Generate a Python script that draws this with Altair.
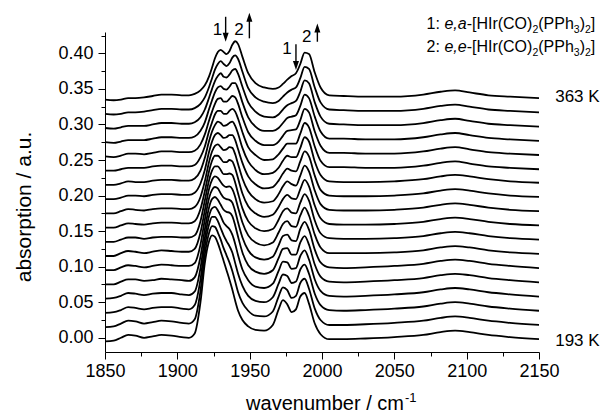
import altair as alt
import pandas as pd

FONT = "Liberation Sans"

# ---------------- data ----------------
wavenumber = [1850, 1856, 1861, 1866, 1871, 1877, 1883, 1889, 1896, 1903, 1908,
              1912, 1916, 1919, 1922, 1924, 1926, 1928, 1930, 1932, 1934, 1936, 1938,
              1940, 1942, 1945, 1949, 1954, 1960,
              1966, 1970, 1973, 1976, 1979, 1982, 1985, 1988, 1991, 1995, 1999, 2005,
              2015, 2030, 2050, 2070, 2082, 2092, 2102, 2115, 2130, 2150]

temperatures = [193, 203, 213, 223, 233, 243, 253, 263, 273, 283,
                293, 303, 313, 323, 333, 343, 353, 363]
offsets = [0.00, 0.02, 0.04, 0.06, 0.08, 0.10, 0.12, 0.14, 0.16, 0.18,
           0.20, 0.22, 0.24, 0.26, 0.28, 0.30, 0.32, 0.34]

# absorbance above each trace's offset, in units of 0.001 a.u.
s193 = [-5,-4,0,4,3,0,2,4,3,1,0, 6,50,105,136,144,142,133,121,108,95,82,68,52,38,25,16,11,10, 18,40,53,47,36,40,58,63,48,20,5,-2, -2,-1,1,4,8,10,8,4,1,-2]
s203 = [-5,-4,0,4,3,0,2,4,3,1,0, 6,46,97,128,137,136,128,118,106,96,86,74,59,44,29,18,11,10, 17,38,51,47,36,39,57,63,49,21,5,-2, -2,-1,1,4,8,10,8,4,1,-2]
s213 = [-5,-4,-1,3,2,0,2,3,3,1,0, 6,42,89,120,130,130,124,114,104,96,89,80,65,50,33,19,12,10, 17,36,49,47,37,39,56,63,50,22,6,-1, -2,-1,1,4,8,10,8,4,1,-2]
s223 = [-5,-4,-1,3,2,0,2,3,3,1,0, 5,38,80,112,122,124,119,111,102,97,93,85,72,56,36,21,12,10, 16,34,47,46,37,38,55,63,50,22,6,-1, -2,-1,1,4,8,10,8,4,1,-2]
s233 = [-5,-5,-1,2,2,0,1,3,2,1,0, 5,34,72,104,115,118,114,107,100,97,96,91,78,62,40,22,13,10, 15,32,45,46,37,37,54,63,51,23,6,-1, -2,-1,1,4,8,10,8,4,1,-2]
s243 = [-5,-5,-1,2,1,-1,1,3,2,1,1, 5,31,66,97,108,112,110,103,97,95,94,90,78,62,41,23,13,10, 14,30,43,45,37,36,53,63,52,24,6,-1, -2,-1,1,4,8,10,8,4,1,-2]
s253 = [-5,-5,-1,2,1,-1,1,3,2,1,1, 5,28,59,90,102,107,105,99,94,92,93,89,78,63,42,24,14,10, 14,28,40,44,37,36,52,63,52,25,7,-1, -1,-1,0,3,7,9,7,3,0,-2]
s263 = [-5,-5,-2,1,1,-1,1,2,2,1,1, 4,24,53,82,95,101,101,96,90,90,91,89,78,63,42,24,14,10, 13,26,38,42,36,35,50,62,53,25,7,0, -1,-1,0,3,7,9,7,3,0,-2]
s273 = [-5,-5,-2,1,0,-1,1,2,2,1,1, 4,21,46,75,89,96,96,92,87,87,90,88,78,64,43,25,15,10, 13,24,35,41,36,35,49,62,53,26,8,0, -1,-1,0,3,7,9,7,3,0,-2]
s283 = [-5,-5,-2,1,0,-1,1,2,2,1,1, 4,18,40,68,82,90,92,88,84,85,88,87,78,64,44,26,15,10, 12,22,33,40,36,34,48,62,54,27,8,0, -1,-1,0,3,7,9,7,3,0,-2]
s293 = [-5,-5,-3,0,0,-1,1,2,2,1,1, 4,17,36,62,76,85,88,85,81,82,85,85,78,65,46,27,16,10, 12,21,31,38,35,34,48,62,55,28,8,0, -1,-1,0,3,7,9,7,3,0,-2]
s303 = [-5,-5,-3,0,-1,-1,1,2,2,1,1, 4,15,33,57,70,79,84,82,78,79,82,84,78,67,47,28,16,10, 12,19,29,36,34,34,47,62,56,28,9,0, -1,-1,0,3,7,9,7,3,0,-2]
s313 = [-5,-5,-3,-1,-1,-1,1,2,2,1,1, 3,14,29,51,63,74,79,79,75,75,79,82,78,68,49,28,17,10, 11,18,26,33,33,33,47,62,56,29,9,0, 0,-1,-1,2,6,8,5,1,-1,-3]
s323 = [-5,-6,-4,-1,-1,-2,0,2,2,1,1, 3,12,26,46,58,69,76,77,72,72,76,80,78,69,50,29,17,11, 11,16,24,31,32,33,46,62,57,30,10,0, 0,-1,-1,2,6,8,5,1,-1,-3]
s333 = [-5,-6,-4,-2,-2,-2,0,2,2,1,1, 3,11,23,42,54,65,72,74,70,69,73,78,78,70,51,30,17,11, 11,15,22,29,31,33,46,62,57,31,10,0, 0,-1,-1,2,6,8,5,1,-1,-3]
s343 = [-5,-6,-4,-2,-2,-2,0,2,2,1,1, 3,10,21,38,50,61,68,72,67,66,70,76,78,71,53,31,18,11, 10,14,21,27,30,33,46,62,58,31,11,1, 0,-1,-1,2,6,8,5,1,-1,-3]
s353 = [-5,-6,-5,-3,-3,-2,0,2,2,1,1, 3,9,18,33,45,57,65,69,65,62,66,74,77,72,54,31,18,12, 10,13,19,25,29,32,45,61,58,32,11,1, 0,-1,-1,2,6,8,5,1,-1,-3]
s363 = [-5,-6,-5,-3,-3,-2,0,2,2,1,1, 3,8,15,28,40,53,62,65,62,59,63,72,77,73,55,32,18,12, 10,12,17,23,28,32,45,61,59,33,12,1, 0,-1,-1,2,6,8,5,1,-1,-3]

spectra = [s193, s203, s213, s223, s233, s243, s253, s263, s273, s283,
           s293, s303, s313, s323, s333, s343, s353, s363]

x_major = [1850, 1900, 1950, 2000, 2050, 2100, 2150]
x_minor = [1875, 1925, 1975, 2025, 2075, 2125]
y_major = [0.00, 0.05, 0.10, 0.15, 0.20, 0.25, 0.30, 0.35, 0.40]
y_minor = [0.025, 0.075, 0.125, 0.175, 0.225, 0.275, 0.325, 0.375, 0.425]

# annotation texts / anchor positions (data coordinates)
peak_labels = ["1", "2", "1", "2"]
peak_label_wn = [1927.7, 1942.7, 1975.8, 1989.4]
peak_label_A = [0.4257, 0.4260, 0.3990, 0.4154]

arrow_wn = [1933.4, 1949.8, 1982.0, 1996.8]
arrow_tail = [0.4514, 0.4211, 0.4126, 0.4163]
arrow_head = [0.4226, 0.4507, 0.3829, 0.4358]
arrow_dir = ["down", "up", "down", "up"]

temp_labels = ["363 K", "193 K"]
temp_label_wn = [2161.2, 2161.2]
temp_label_A = [0.332, -0.0118]

legend_lines = [
    [("1: ", "n"), ("e,a", "i"), ("-[HIr(CO)", "n"), ("2", "s"), ("(PPh", "n"),
     ("3", "s"), (")", "n"), ("2", "s"), ("]", "n")],
    [("2: ", "n"), ("e,e", "i"), ("-[HIr(CO)", "n"), ("2", "s"), ("(PPh", "n"),
     ("3", "s"), (")", "n"), ("2", "s"), ("]", "n")],
]
legend_start_wn = 2072.3
legend_line_A = [0.4337, 0.4022]

# ---------------- build tables ----------------
rows = []
for T, off, vals in zip(temperatures, offsets, spectra):
    for wn, v in zip(wavenumber, vals):
        rows.append({"T": T, "wn": wn, "A": round(off + v / 1000.0, 4)})
df = pd.DataFrame(rows)

PX_PER_WN = 434 / 300.0
WID = {'1': .556, '2': .556, '3': .556, ':': .278, ' ': .278, 'e': .556, ',': .278,
       'a': .556, '-': .333, '[': .278, ']': .278, 'H': .722, 'I': .278, 'r': .333,
       '(': .333, ')': .333, 'C': .722, 'O': .778, 'P': .667, 'h': .556}
LEG_SIZE = 16
SUB_SIZE = 10.5
leg_rows = []
for line, A in zip(legend_lines, legend_line_A):
    cum = 0.0
    for text, style in line:
        size = SUB_SIZE if style == "s" else LEG_SIZE
        leg_rows.append({"wn": legend_start_wn + cum / PX_PER_WN, "A": A,
                         "label": text, "style": style})
        cum += sum(WID[c] for c in text) * size
leg = pd.DataFrame(leg_rows)

xscale = alt.Scale(domain=[1850, 2150], nice=False, zero=False)
yscale = alt.Scale(domain=[-0.02, 0.43], nice=False, zero=False)

x_major_axis = alt.Axis(values=x_major, format="d", orient="bottom", tickSize=7, tickWidth=1,
                        tickColor="black", domainColor="black", domainWidth=1, grid=False,
                        labelFont=FONT, labelFontSize=18, labelColor="black", labelPadding=3,
                        labelFlush=False, labelOverlap=False, title=None)
y_major_axis = alt.Axis(values=y_major, format=".2f", orient="left", tickSize=7, tickWidth=1,
                        tickColor="black", domainColor="black", domainWidth=1, grid=False,
                        labelFont=FONT, labelFontSize=18, labelColor="black", labelPadding=5,
                        labelOverlap=False, title="absorption / a.u.", titleFont=FONT,
                        titleFontSize=21, titleFontWeight="normal", titleColor="black",
                        titleAngle=270, titleX=-74.5, titleY=174.5, titleAlign="center",
                        titleBaseline="alphabetic")
x_minor_axis = alt.Axis(values=x_minor, orient="bottom", labels=False, tickSize=4, tickWidth=1,
                        tickColor="black", domain=False, grid=False, title=None)
y_minor_axis = alt.Axis(values=y_minor, orient="left", labels=False, tickSize=4, tickWidth=1,
                        tickColor="black", domain=False, grid=False, title=None)


def X(axis=None):
    return alt.X("wn:Q", scale=xscale, axis=axis)


def Y(axis=None):
    return alt.Y("A:Q", scale=yscale, axis=axis)


lines = alt.Chart(df).mark_line(color="black", strokeWidth=1.8, interpolate="monotone").encode(
    x=X(x_major_axis), y=Y(y_major_axis), detail="T:N")
minor = alt.Chart(df).mark_line(opacity=0).encode(
    x=X(x_minor_axis), y=Y(y_minor_axis), detail="T:N")

peak_df = pd.DataFrame({"wn": peak_label_wn, "A": peak_label_A, "label": peak_labels})
peak_txt = alt.Chart(peak_df).mark_text(font=FONT, fontSize=17, color="black", align="center",
                                        baseline="alphabetic").encode(x=X(), y=Y(), text="label:N")

arr_df = pd.DataFrame({"wn": arrow_wn, "A": arrow_tail, "A2": arrow_head, "dir": arrow_dir})
arr_rule = alt.Chart(arr_df).mark_rule(color="black", strokeWidth=1.4).encode(
    x=X(), y=Y(), y2="A2:Q")
head_down = alt.Chart(arr_df[arr_df["dir"] == "down"]).mark_point(
    shape="M-0.67,-1L0.67,-1L0,1Z", size=81, filled=True, color="black", opacity=1,
    strokeWidth=0).encode(x=X(), y=alt.Y("A2:Q", scale=yscale, axis=None))
head_up = alt.Chart(arr_df[arr_df["dir"] == "up"]).mark_point(
    shape="M-0.67,1L0.67,1L0,-1Z", size=81, filled=True, color="black", opacity=1,
    strokeWidth=0).encode(x=X(), y=alt.Y("A2:Q", scale=yscale, axis=None))

temp_df = pd.DataFrame({"wn": temp_label_wn, "A": temp_label_A, "label": temp_labels})
temp_txt = alt.Chart(temp_df).mark_text(font=FONT, fontSize=17, color="black", align="left",
                                        baseline="alphabetic").encode(x=X(), y=Y(), text="label:N")

leg_n = alt.Chart(leg[leg["style"] == "n"]).mark_text(
    font=FONT, fontSize=LEG_SIZE, color="black", align="left", baseline="alphabetic").encode(
    x=X(), y=Y(), text="label:N")
leg_i = alt.Chart(leg[leg["style"] == "i"]).mark_text(
    font=FONT, fontSize=LEG_SIZE, fontStyle="italic", color="black", align="left",
    baseline="alphabetic").encode(x=X(), y=Y(), text="label:N")
leg_s = alt.Chart(leg[leg["style"] == "s"]).mark_text(
    font=FONT, fontSize=SUB_SIZE, color="black", align="left", baseline="alphabetic",
    dy=4).encode(x=X(), y=Y(), text="label:N")

# x-axis title with superscript
xt_df = pd.DataFrame({"wn": [2002.1], "A": [-0.1013], "label": ["wavenumber / cm"]})
xt = alt.Chart(xt_df).mark_text(font=FONT, fontSize=20, color="black", align="center",
                                baseline="alphabetic").encode(x=X(), y=Y(), text="label:N")
xs_df = pd.DataFrame({"wn": [2057.4], "A": [-0.0908], "label": ["-1"]})
xs = alt.Chart(xs_df).mark_text(font=FONT, fontSize=13, color="black", align="left",
                                baseline="alphabetic").encode(x=X(), y=Y(), text="label:N")

chart = alt.layer(
    lines, minor, peak_txt, arr_rule, head_down, head_up, temp_txt, leg_n, leg_i, leg_s, xt, xs
).resolve_axis(x="independent", y="independent").properties(
    width=434, height=320,
    autosize=alt.AutoSizeParams(type="none"),
    padding={"left": 105, "top": 32, "right": 68, "bottom": 66},
).configure_view(stroke=None)

chart.save("out.html", embed_options={"renderer": "svg", "actions": False})
